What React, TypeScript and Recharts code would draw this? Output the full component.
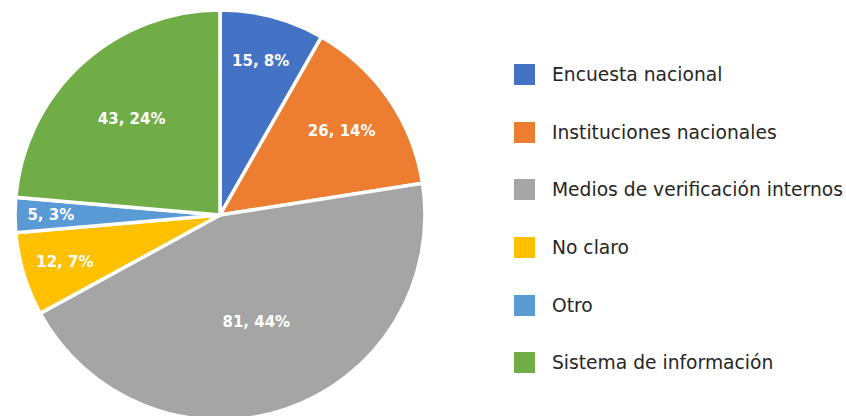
import React from 'react';
import { PieChart, Pie, Cell, Legend } from 'recharts';

const categories = [
  'Encuesta nacional',
  'Instituciones nacionales',
  'Medios de verificación internos',
  'No claro',
  'Otro',
  'Sistema de información',
];
const counts = [15, 26, 81, 12, 5, 43];
const colors = ['#4472C4', '#ED7D31', '#A5A5A5', '#FFC000', '#5B9BD5', '#70AD47'];

// whole-number percentages that add up to 100 (largest remainder), like the original
const total = counts.reduce((a, b) => a + b, 0);
const raw = counts.map((c) => (c / total) * 100);
const pcts = raw.map((r) => Math.floor(r));
const order = raw
  .map((r, i) => ({ i, rem: r - Math.floor(r) }))
  .sort((a, b) => b.rem - a.rem);
const missing = 100 - pcts.reduce((a, b) => a + b, 0);
for (let k = 0; k < missing; k++) pcts[order[k].i] += 1;

const data = categories.map((name, i) => ({ name, value: counts[i], pct: pcts[i] }));

const RADIAN = Math.PI / 180;

// small slices get their label pushed out toward the rim, big ones sit closer in
const renderLabel = (props: any) => {
  const { cx, cy, midAngle, outerRadius, percent, value, payload } = props;
  const r = outerRadius * Math.max(0.55, 0.85 - 0.9 * percent);
  const x = cx + r * Math.cos(-midAngle * RADIAN);
  const y = cy + r * Math.sin(-midAngle * RADIAN);
  return (
    <text
      x={x}
      y={y}
      fill="#fff"
      textAnchor="middle"
      dominantBaseline="central"
      fontFamily="DejaVu Sans"
      fontWeight="bold"
      fontSize={15}
    >
      {`${value}, ${payload.pct}%`}
    </text>
  );
};

const renderLegend = (props: any) => {
  const { payload } = props;
  return (
    <div>
      {payload.map((entry: any, i: number) => (
        <div
          key={i}
          style={{ display: 'flex', alignItems: 'center', height: 57.6 }}
        >
          <span
            style={{ width: 21, height: 21, background: entry.color, marginRight: 17 }}
          />
          <span style={{ fontFamily: 'DejaVu Sans', fontSize: 18.7, color: '#262626' }}>
            {entry.value}
          </span>
        </div>
      ))}
    </div>
  );
};

const App = () => {
  return (
    <div style={{ position: 'absolute', left: 0, top: 0, background: '#fff' }}>
      <PieChart width={846} height={416} margin={{ top: 0, right: 0, bottom: 0, left: 0 }}>
        <Pie
          data={data}
          dataKey="value"
          nameKey="name"
          cx={220}
          cy={215}
          outerRadius={205}
          startAngle={90}
          endAngle={-270}
          stroke="#fff"
          strokeWidth={3.5}
          label={renderLabel}
          labelLine={false}
          isAnimationActive={false}
        >
          {data.map((d, i) => (
            <Cell key={d.name} fill={colors[i]} />
          ))}
        </Pie>
        <Legend
          layout="vertical"
          align="right"
          verticalAlign="top"
          content={renderLegend}
          wrapperStyle={{ left: 514, top: 46, width: 332 }}
        />
      </PieChart>
    </div>
  );
};

export default App;
